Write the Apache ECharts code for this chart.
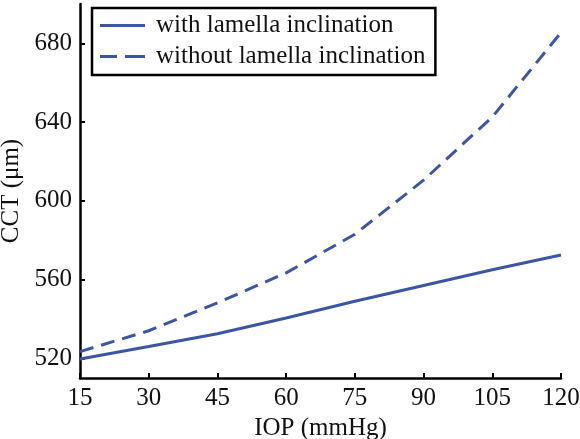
<!DOCTYPE html>
<html>
<head>
<meta charset="utf-8">
<script src="https://cdn.jsdelivr.net/npm/echarts@6/dist/echarts.min.js"></script>
<style>html,body{margin:0;padding:0;background:#fff}#c{width:580px;height:439px}</style>
</head>
<body>
<div id="c"></div>
<script>
const iop = [15, 30, 45, 60, 75, 90, 105, 120];
const withIncl = [519.7, 526.0, 532.5, 540.5, 549.0, 557.0, 565.0, 572.5];
const withoutIncl = [523.4, 534.0, 548.2, 563.4, 583.0, 610.5, 642.6, 685.5];
const xTicks = [15, 30, 45, 60, 75, 90, 105, 120];
const yTicks = [520, 560, 600, 640, 680];
const seriesNames = ['with lamella inclination', 'without lamella inclination'];

const color = '#3d55a5';
const font = '"Liberation Serif", "Times New Roman", serif';
const chart = echarts.init(document.getElementById('c'), null, {renderer: 'canvas'});
const pairs = arr => iop.map((x, i) => [x, arr[i]]);
chart.setOption({
  animation: false,
  backgroundColor: '#fff',
  textStyle: {fontFamily: font},
  grid: {left: 80, right: 19, top: 4, bottom: 61, containLabel: false, outerBoundsMode: 'none'},
  legend: {
    orient: 'vertical',
    left: 92, top: 8,
    padding: [5, 10, 6, 8],
    borderColor: '#000', borderWidth: 2.5,
    backgroundColor: '#fff',
    itemWidth: 45, itemHeight: 3, itemGap: 6,
    itemStyle: {color: color, borderWidth: 0},
    textStyle: {fontFamily: font, fontSize: 25, color: '#111', lineHeight: 25, padding: [0, 0, 0, 6]},
    data: [
      {name: seriesNames[0], icon: 'rect'},
      {name: seriesNames[1], icon: 'path://M0,0h17v3h-17z M25,0h20v3h-20z'}
    ]
  },
  xAxis: {
    type: 'value', min: 15, max: 120, interval: 15,
    name: 'IOP (mmHg)', nameLocation: 'middle', nameGap: 38,
    nameTextStyle: {fontFamily: font, fontSize: 25, color: '#111'},
    axisLine: {show: true, lineStyle: {color: '#000', width: 2.5}},
    axisTick: {show: true, inside: true, length: 5, lineStyle: {color: '#000', width: 2}, customValues: xTicks},
    axisLabel: {fontFamily: font, fontSize: 25, color: '#111', margin: 8, customValues: xTicks},
    splitLine: {show: false}
  },
  yAxis: {
    type: 'value', min: 510, max: 700,
    name: 'CCT (μm)', nameLocation: 'middle', nameGap: 54, nameRotate: 90,
    nameTextStyle: {fontFamily: font, fontSize: 25, color: '#111'},
    axisLine: {show: true, lineStyle: {color: '#000', width: 2.5}},
    axisTick: {show: true, inside: true, length: 5, lineStyle: {color: '#000', width: 2}, customValues: yTicks},
    axisLabel: {fontFamily: font, fontSize: 25, color: '#111', margin: 8, customValues: yTicks},
    splitLine: {show: false}
  },
  series: [
    {name: seriesNames[0], type: 'line', data: pairs(withIncl), symbol: 'none', smooth: false,
     lineStyle: {color: color, width: 3}, itemStyle: {color: color}},
    {name: seriesNames[1], type: 'line', data: pairs(withoutIncl), symbol: 'none', smooth: false,
     lineStyle: {color: color, width: 3, type: [14, 8]}, itemStyle: {color: color}}
  ]
});
</script>
</body>
</html>
